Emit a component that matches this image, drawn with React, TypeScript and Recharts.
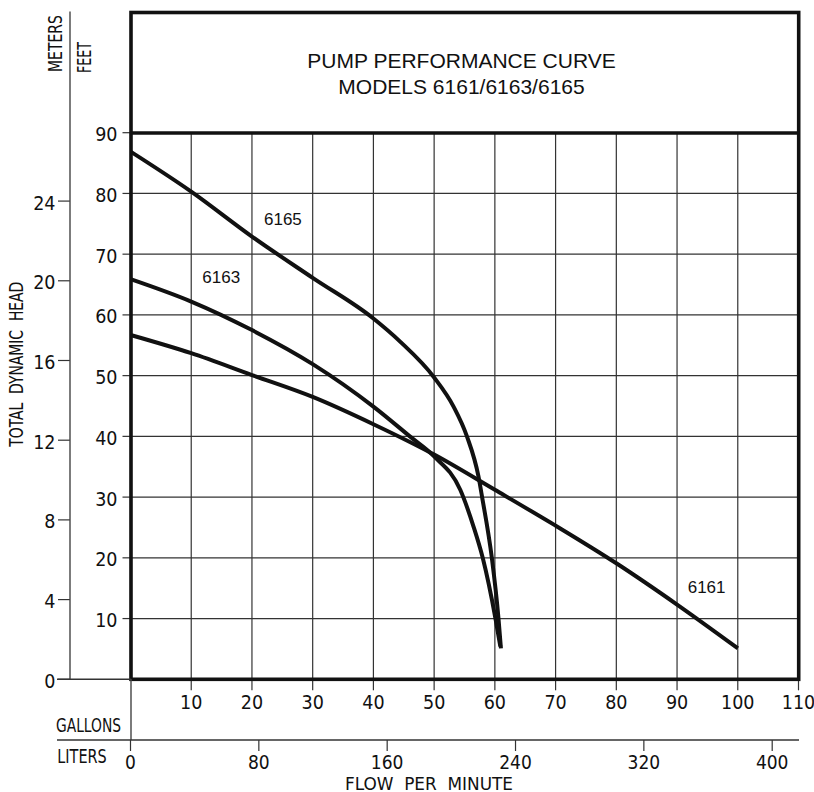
import React from 'react';
import { LineChart, Line, XAxis, YAxis, CartesianGrid } from 'recharts';

const gallonTicks = [10, 20, 30, 40, 50, 60, 70, 80, 90, 100, 110];
const literTicks = [0, 80, 160, 240, 320, 400];
const feetTicks = [10, 20, 30, 40, 50, 60, 70, 80, 90];
const meterTicks = [0, 4, 8, 12, 16, 20, 24];

const flow6161 = [0, 10, 20, 30, 40, 50, 60, 70, 80, 90, 100];
const head6161 = [56.7, 53.7, 50.1, 46.5, 42.0, 37.0, 31.2, 25.3, 19.1, 12.3, 5.1];
const flow6163 = [0, 10, 20, 30, 40, 46, 50, 54.3, 56.5, 58.0, 60.1, 60.9];
const head6163 = [65.9, 62.2, 57.5, 51.9, 44.9, 40, 36.7, 31.2, 25.1, 20, 10, 5.4];
const flow6165 = [0, 10, 20, 30, 40, 44.4, 50, 53.2, 55.4, 57.3, 57.9, 59.5, 60.6, 61.0];
const head6165 = [86.9, 80.3, 72.9, 66.1, 59.4, 55.6, 49.7, 44.9, 40, 33.4, 30, 20, 10, 5.1];

const GAL_TO_L = 3.78541;
const FT_PER_M = 3.28084;

const toRows = (flow: number[], head: number[]) => flow.map((g, i) => ({ gal: g, ft: head[i] }));
const data6161 = toRows(flow6161, head6161);
const data6163 = toRows(flow6163, head6163);
const data6165 = toRows(flow6165, head6165);

const narrow = "'Liberation Sans Narrow', 'Arial Narrow', 'DejaVu Sans Condensed', sans-serif";
const sans = "'Liberation Sans', Arial, sans-serif";
const INK = '#111';

const LeftTick = (p: any) => (
  <text x={p.x} y={p.y} dy={8.5} textAnchor="end" fontFamily={narrow} fontSize={19.5} fill={INK}>
    {p.payload.value}
  </text>
);
const BottomTick = (p: any) => (
  <text x={p.x} y={p.y} dy={18.5} textAnchor="middle" fontFamily={narrow} fontSize={19.5} fill={INK}>
    {p.payload.value}
  </text>
);
const LiterTick = (p: any) => (
  <text x={p.x} y={p.y} dy={17.5} textAnchor="middle" fontFamily={narrow} fontSize={19} fill={INK}>
    {p.payload.value}
  </text>
);

export default function App() {
  return (
    <div style={{ position: 'absolute', left: 0, top: 0, width: 814, height: 792, background: '#fff' }}>
      <LineChart
        width={814}
        height={792}
        data={data6161}
        margin={{ top: 132.7, right: 15.5, bottom: 0, left: 0 }}
      >
        <CartesianGrid stroke="#333" strokeWidth={1.2} />
        <XAxis
          type="number"
          dataKey="gal"
          domain={[0, 110]}
          ticks={gallonTicks}
          height={60.7}
          axisLine={false}
          tickSize={11}
          tickMargin={0}
          tickLine={{ stroke: '#333', strokeWidth: 1.2 }}
          tick={BottomTick}
          allowDataOverflow
        />
        <XAxis
          xAxisId="L"
          type="number"
          dataKey="gal"
          domain={[0, 110 * GAL_TO_L]}
          ticks={literTicks}
          height={52}
          axisLine={false}
          tickSize={11}
          tickMargin={0}
          tickLine={{ stroke: '#333', strokeWidth: 1.2 }}
          tick={LiterTick}
          allowDataOverflow
        />
        <YAxis
          type="number"
          domain={[0, 90]}
          ticks={feetTicks}
          width={60.5}
          axisLine={false}
          tickSize={8}
          tickMargin={5}
          tickLine={{ stroke: '#333', strokeWidth: 1.2 }}
          tick={LeftTick}
          allowDataOverflow
        />
        <YAxis
          yAxisId="m"
          type="number"
          domain={[0, 90 / FT_PER_M]}
          ticks={meterTicks}
          width={70}
          axisLine={false}
          tickSize={12}
          tickMargin={2.5}
          tickLine={{ stroke: '#333', strokeWidth: 1.2 }}
          tick={LeftTick}
          allowDataOverflow
        />
        <Line data={data6161} dataKey="ft" type="monotone" stroke={INK} strokeWidth={4} dot={false} isAnimationActive={false} />
        <Line data={data6163} dataKey="ft" type="monotone" stroke={INK} strokeWidth={4} dot={false} isAnimationActive={false} />
        <Line data={data6165} dataKey="ft" type="monotone" stroke={INK} strokeWidth={4} dot={false} isAnimationActive={false} />
      </LineChart>
      <svg
        width={814}
        height={792}
        style={{ position: 'absolute', left: 0, top: 0, pointerEvents: 'none' }}
      >
        <rect x={131} y={12.5} width={667.7} height={666.8} fill="none" stroke={INK} strokeWidth={3.6} />
        <line x1={131} y1={133} x2={798.7} y2={133} stroke={INK} strokeWidth={3.6} />
        <line x1={70} y1={11.5} x2={70} y2={679.3} stroke="#444" strokeWidth={1.4} />
        <line x1={57} y1={679.3} x2={131} y2={679.3} stroke="#333" strokeWidth={1.4} />
        <line x1={131} y1={679} x2={131} y2={740} stroke="#444" strokeWidth={1.4} />
        <line x1={57} y1={740} x2={799} y2={740} stroke="#333" strokeWidth={1.4} />

        <text x={461.5} y={68} textAnchor="middle" fontFamily={sans} fontSize={21} fill={INK}>
          PUMP PERFORMANCE CURVE
        </text>
        <text x={461.5} y={94} textAnchor="middle" fontFamily={sans} fontSize={21} fill={INK}>
          MODELS 6161/6163/6165
        </text>

        <text transform="translate(62,72) rotate(-90)" fontFamily={narrow} fontSize={19.5} fill={INK}
          textLength={57} lengthAdjust="spacingAndGlyphs">METERS</text>
        <text transform="translate(90.5,73) rotate(-90)" fontFamily={narrow} fontSize={19.5} fill={INK}
          textLength={31} lengthAdjust="spacingAndGlyphs">FEET</text>
        <text transform="translate(23,446.7) rotate(-90)" fontFamily={narrow} fontSize={19.5} fill={INK}
          textLength={165} lengthAdjust="spacingAndGlyphs" xmlSpace="preserve">TOTAL  DYNAMIC  HEAD</text>

        <text x={56} y={731.7} fontFamily={narrow} fontSize={19.5} fill={INK}
          textLength={65} lengthAdjust="spacingAndGlyphs">GALLONS</text>
        <text x={57.3} y={763} fontFamily={narrow} fontSize={19.5} fill={INK}
          textLength={49.4} lengthAdjust="spacingAndGlyphs">LITERS</text>
        <text x={345} y={789.5} fontFamily={narrow} fontSize={18.5} fill={INK}
          textLength={168} lengthAdjust="spacingAndGlyphs" xmlSpace="preserve">FLOW  PER  MINUTE</text>

        <text x={264} y={225} fontFamily={sans} fontSize={17} fill={INK}>6165</text>
        <text x={202.3} y={282.7} fontFamily={sans} fontSize={17} fill={INK}>6163</text>
        <text x={687.7} y={593.3} fontFamily={sans} fontSize={17} fill={INK}>6161</text>
      </svg>
    </div>
  );
}
